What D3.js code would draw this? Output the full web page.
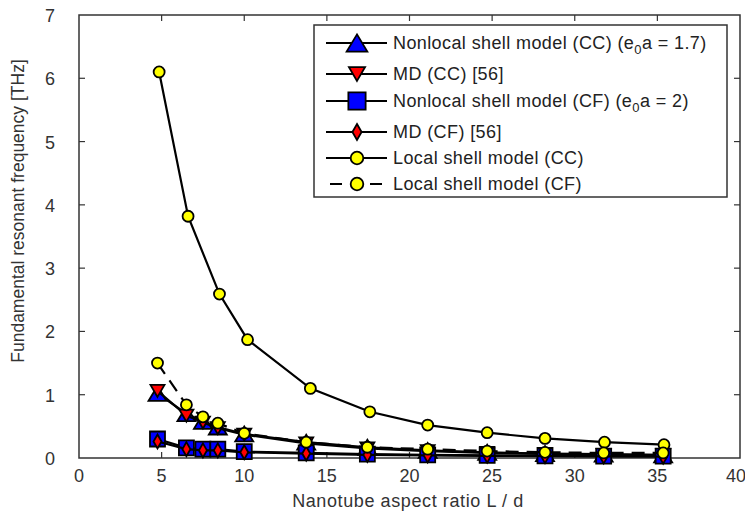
<!DOCTYPE html>
<html>
<head>
<meta charset="utf-8">
<script src="https://cdn.jsdelivr.net/npm/d3@7"></script>
<style>
  body { margin: 0; background: #fff; }
  text { font-family: "Liberation Sans", Arial, sans-serif; }
</style>
</head>
<body>
<script>
// aspect ratios (L/d)
const xsMain = [4.75, 6.5, 7.5, 8.4, 10.0, 13.75, 17.45, 21.1, 24.7, 28.2, 31.75, 35.35];
const xsLocalCC = [4.85, 6.6, 8.5, 10.2, 14.0, 17.6, 21.1, 24.7, 28.2, 31.8, 35.4];

const nonlocalCC = [1.02, 0.70, 0.58, 0.49, 0.38, 0.25, 0.17, 0.12, 0.09, 0.07, 0.06, 0.05];
const mdCC = [1.06, 0.67, 0.56, 0.47, 0.37, 0.23, 0.15, 0.11, 0.08, 0.065, 0.05, 0.045];
const nonlocalCF = [0.30, 0.16, 0.14, 0.14, 0.10, 0.08, 0.06, 0.05, 0.04, 0.035, 0.03, 0.03];
const mdCF = [0.26, 0.14, 0.12, 0.12, 0.09, 0.07, 0.05, 0.04, 0.035, 0.03, 0.025, 0.02];
const localCC = [6.1, 3.82, 2.59, 1.87, 1.10, 0.73, 0.52, 0.40, 0.31, 0.25, 0.21];
const localCF = [1.50, 0.84, 0.65, 0.55, 0.39, 0.25, 0.17, 0.14, 0.11, 0.09, 0.08, 0.08];

const xTicks = [0, 5, 10, 15, 20, 25, 30, 35, 40];
const yTicks = [0, 1, 2, 3, 4, 5, 6, 7];

const legendLabels = [
  'Nonlocal shell model (CC) (e|0|a = 1.7)',
  'MD (CC) [56]',
  'Nonlocal shell model (CF) (e|0|a = 2)',
  'MD (CF) [56]',
  'Local shell model (CC)',
  'Local shell model (CF)'
];

const width = 745, height = 525;
const margin = {left: 79, right: 5, top: 15, bottom: 67};

const svg = d3.select('body').append('svg')
  .attr('width', width).attr('height', height);

const x = d3.scaleLinear().domain([0, 40]).range([margin.left, width - margin.right]);
const y = d3.scaleLinear().domain([0, 7]).range([height - margin.bottom, margin.top]);

// marker shapes
const markerPath = (shape, s) => {
  s = s || 1;
  if (shape === 'tri') { const w = 9 * s, h = 7.5 * s; return `M0,${-h}L${w},${h}L${-w},${h}Z`; }
  if (shape === 'itri') { const w = 7 * s, h = 6 * s; return `M0,${h}L${w},${-h}L${-w},${-h}Z`; }
  if (shape === 'sq') { const w = 7.5 * s; return `M${-w},${-w}H${w}V${w}H${-w}Z`; }
  if (shape === 'dia') { const w = 4 * s, h = 7 * s; return `M0,${-h}L${w},0L0,${h}L${-w},0Z`; }
  if (shape === 'circ') { const r = 5.5 * s; return d3.symbol(d3.symbolCircle, Math.PI * r * r)(); }
};

const series = [
  {xs: xsMain, ys: nonlocalCC, shape: 'tri', fill: '#0000ff', dash: null},
  {xs: xsMain, ys: mdCC, shape: 'itri', fill: '#ff0000', dash: null},
  {xs: xsMain, ys: nonlocalCF, shape: 'sq', fill: '#0000ff', dash: null},
  {xs: xsMain, ys: mdCF, shape: 'dia', fill: '#ff0000', dash: null},
  {xs: xsLocalCC, ys: localCC, shape: 'circ', fill: '#ffff00', dash: null},
  {xs: xsMain, ys: localCF, shape: 'circ', fill: '#ffff00', dash: '13,8'}
];

// frame
svg.append('rect')
  .attr('x', x(0)).attr('y', y(7))
  .attr('width', x(40) - x(0)).attr('height', y(0) - y(7))
  .attr('fill', 'none').attr('stroke', '#333').attr('stroke-width', 1.5);

// ticks, mirrored on all four sides, pointing inward
const tk = 6;
xTicks.slice(1, -1).forEach(t => {
  svg.append('line').attr('x1', x(t)).attr('x2', x(t)).attr('y1', y(0)).attr('y2', y(0) - tk)
    .attr('stroke', '#333').attr('stroke-width', 1.2);
  svg.append('line').attr('x1', x(t)).attr('x2', x(t)).attr('y1', y(7)).attr('y2', y(7) + tk)
    .attr('stroke', '#333').attr('stroke-width', 1.2);
});
yTicks.slice(1, -1).forEach(t => {
  svg.append('line').attr('x1', x(0)).attr('x2', x(0) + tk).attr('y1', y(t)).attr('y2', y(t))
    .attr('stroke', '#333').attr('stroke-width', 1.2);
  svg.append('line').attr('x1', x(40)).attr('x2', x(40) - tk).attr('y1', y(t)).attr('y2', y(t))
    .attr('stroke', '#333').attr('stroke-width', 1.2);
});

// tick labels
svg.selectAll('.xl').data(xTicks).enter().append('text')
  .attr('x', d => d === 40 ? x(d) - 4 : x(d)).attr('y', y(0) + 24)
  .attr('text-anchor', 'middle').attr('font-size', 18).attr('fill', '#333')
  .text(d => d);
svg.selectAll('.yl').data(yTicks).enter().append('text')
  .attr('x', x(0) - 24).attr('y', d => y(d) + 7)
  .attr('text-anchor', 'end').attr('font-size', 18).attr('fill', '#333')
  .text(d => d);

// axis titles
svg.append('text')
  .attr('x', 408).attr('y', 507)
  .attr('text-anchor', 'middle').attr('font-size', 18).attr('letter-spacing', 0.6).attr('fill', '#333')
  .text('Nanotube aspect ratio L / d');
svg.append('text')
  .attr('transform', 'translate(24,211) rotate(-90)')
  .attr('text-anchor', 'middle').attr('font-size', 17.5).attr('fill', '#333')
  .text('Fundamental resonant frequency [THz]');

// lines then markers per series
const line = d3.line().x(d => x(d[0])).y(d => y(d[1]));
series.forEach(s => {
  const pts = s.xs.map((v, i) => [v, s.ys[i]]);
  svg.append('path')
    .attr('d', line(pts))
    .attr('fill', 'none').attr('stroke', '#000').attr('stroke-width', 2.2)
    .attr('stroke-dasharray', s.dash);
  svg.selectAll(null).data(pts).enter().append('path')
    .attr('transform', d => `translate(${x(d[0])},${y(d[1])})`)
    .attr('d', markerPath(s.shape))
    .attr('fill', s.fill).attr('stroke', '#000').attr('stroke-width', 1.8);
});

// legend
const lg = svg.append('g');
lg.append('rect')
  .attr('x', 314).attr('y', 25).attr('width', 413).attr('height', 172)
  .attr('fill', '#fff').attr('stroke', '#333').attr('stroke-width', 1.5);
const rowY = [43, 74, 101, 132, 158, 184];
series.forEach((s, i) => {
  const yy = rowY[i];
  lg.append('line').attr('x1', 326).attr('x2', 387).attr('y1', yy).attr('y2', yy)
    .attr('stroke', '#000').attr('stroke-width', 2.2)
    .attr('stroke-dasharray', s.dash ? '12,8' : null)
    .attr('stroke-dashoffset', s.dash ? -4 : null);
  lg.append('path')
    .attr('transform', `translate(357,${yy})`)
    .attr('d', markerPath(s.shape, 1.15))
    .attr('fill', s.fill).attr('stroke', '#000').attr('stroke-width', 1.8);
  const parts = legendLabels[i].split('|');
  const t = lg.append('text').attr('x', 393).attr('y', yy + 6)
    .attr('font-size', 18).attr('letter-spacing', 0.4).attr('fill', '#222');
  t.append('tspan').text(parts[0]);
  if (parts.length > 1) {
    t.append('tspan').attr('font-size', 13).attr('dy', 5).text(parts[1]);
    t.append('tspan').attr('dy', -5).text(parts[2]);
  }
});
</script>
</body>
</html>
